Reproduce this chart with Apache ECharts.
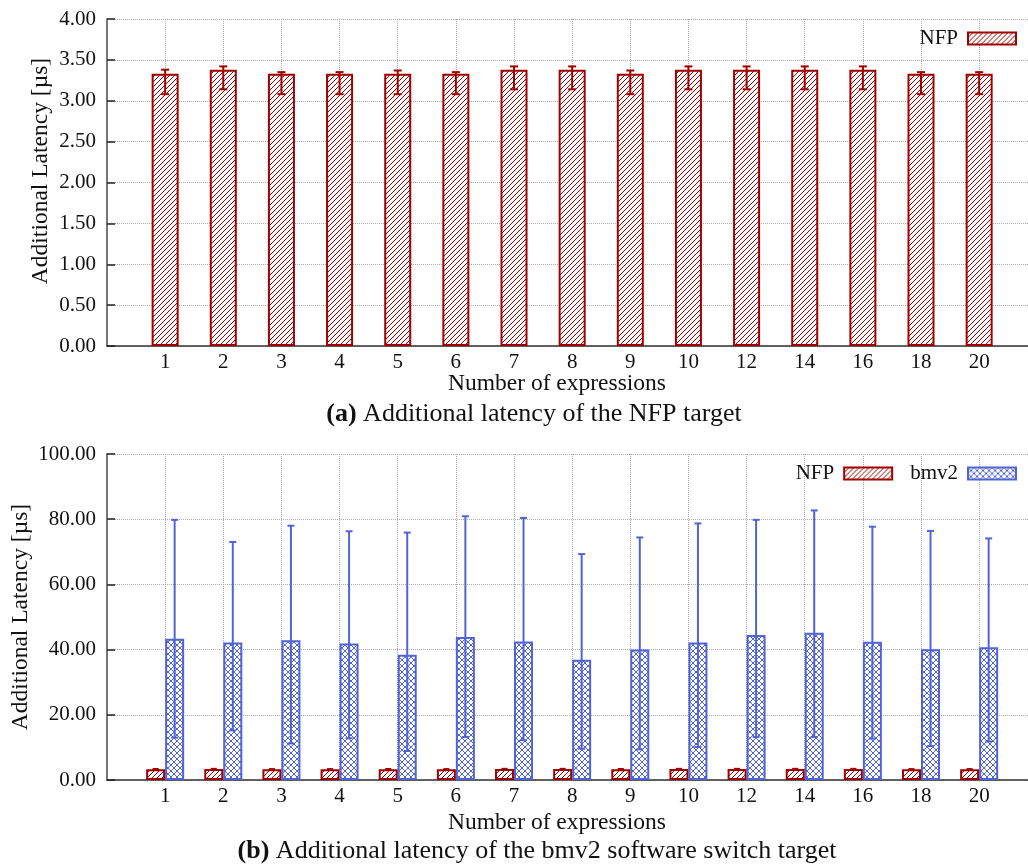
<!DOCTYPE html>
<html>
<head>
<meta charset="utf-8">
<script src="https://cdn.jsdelivr.net/npm/echarts@6/dist/echarts.min.js"></script>
<style>
html,body{margin:0;padding:0;background:#fff;}
#chart{width:1028px;height:866px;}
</style>
</head>
<body>
<div id="chart"></div>
<script>
const categories = ['1','2','3','4','5','6','7','8','9','10','12','14','16','18','20'];
const nfpMean = [3.33,3.38,3.33,3.33,3.33,3.33,3.38,3.38,3.33,3.38,3.38,3.38,3.38,3.33,3.33];
const nfpHigh = [3.38,3.42,3.35,3.35,3.37,3.35,3.42,3.42,3.37,3.42,3.42,3.42,3.42,3.35,3.35];
const nfpLow  = [3.08,3.14,3.08,3.08,3.08,3.08,3.14,3.14,3.08,3.14,3.14,3.14,3.14,3.08,3.08];
const bmv2Mean = [43.3,42.2,42.9,41.9,38.4,43.9,42.5,36.9,40.0,42.2,44.5,45.2,42.4,40.1,40.7];
const bmv2High = [79.8,73.0,78.0,76.3,75.9,80.9,80.4,69.3,74.4,78.7,79.8,82.7,77.7,76.4,74.1];
const bmv2Low  = [13.0,15.2,11.2,12.8,8.9,13.2,12.2,9.6,9.4,10.1,13.2,13.2,12.7,10.4,11.8];
const yTicksA = [0, 4, 0.5];
const yTicksB = [0, 100, 20];

const RED = '#a00000';
const BLUE = '#5064d8';
const FONT = 'Liberation Serif';

function makePattern(color, size, cross) {
  const c = document.createElement('canvas');
  c.width = size; c.height = size;
  const ctx = c.getContext('2d');
  ctx.fillStyle = '#fff';
  ctx.fillRect(0, 0, size, size);
  ctx.strokeStyle = color;
  ctx.lineWidth = 1;
  ctx.beginPath();
  ctx.moveTo(-1, size + 1); ctx.lineTo(size + 1, -1);
  ctx.moveTo(-1, 1); ctx.lineTo(1, -1);
  ctx.moveTo(size - 1, size + 1); ctx.lineTo(size + 1, size - 1);
  if (cross) {
    ctx.moveTo(-1, -1); ctx.lineTo(size + 1, size + 1);
    ctx.moveTo(size - 1, -1); ctx.lineTo(size + 1, 1);
    ctx.moveTo(-1, size - 1); ctx.lineTo(1, size + 1);
  }
  ctx.stroke();
  return { image: c, repeat: 'repeat' };
}
const redPat = makePattern(RED, 5, false);
const bluePat = makePattern(BLUE, 6, true);

const N = categories.length;
const xMin = -1;
const xMax = 14.84;

function xAxisFor(gi) {
  return {
    gridIndex: gi, type: 'value', min: xMin, max: xMax, interval: 1,
    axisLine: { show: true, onZero: false, lineStyle: { color: '#333', width: 1.5 } },
    axisTick: { show: false },
    axisLabel: {
      fontFamily: FONT, fontSize: 21, color: '#111', margin: 6,
      showMaxLabel: false, showMinLabel: false,
      formatter: v => (Number.isInteger(v) && v >= 0 && v < N) ? categories[v] : ''
    },
    splitLine: { show: true, lineStyle: { type: 'dotted', color: '#aaa', width: 1 } }
  };
}
function yAxisFor(gi, t) {
  return {
    gridIndex: gi, type: 'value', min: t[0], max: t[1], interval: t[2],
    axisLine: { show: true, onZero: false, lineStyle: { color: '#777', width: 2 } },
    axisTick: { show: true, inside: true, length: 8, lineStyle: { color: '#222', width: 1.5 } },
    axisLabel: { fontFamily: FONT, fontSize: 21, color: '#111', margin: 11, formatter: v => v.toFixed(2) },
    splitLine: { show: true, lineStyle: { type: 'dotted', color: '#aaa', width: 1 } }
  };
}

function errSeries(name, gi, lo, hi, color, off, cap) {
  return {
    type: 'custom', name: name + '-err', xAxisIndex: gi, yAxisIndex: gi, z: 5,
    data: lo.map((l, i) => [i, l, hi[i]]),
    encode: { x: 0, y: [1, 2] },
    renderItem: function (params, api) {
      const x = api.value(0);
      const pHi = api.coord([x, api.value(2)]);
      const pLo = api.coord([x, api.value(1)]);
      const cx = pHi[0] + off;
      const st = { stroke: color, lineWidth: 2 };
      return {
        type: 'group',
        children: [
          { type: 'line', shape: { x1: cx, y1: pHi[1], x2: cx, y2: pLo[1] }, style: st },
          { type: 'line', shape: { x1: cx - cap, y1: pHi[1], x2: cx + cap, y2: pHi[1] }, style: st },
          { type: 'line', shape: { x1: cx - cap, y1: pLo[1], x2: cx + cap, y2: pLo[1] }, style: st }
        ]
      };
    },
    silent: true,
    tooltip: { show: false }
  };
}

const legendText = { fontFamily: FONT, fontSize: 21, color: '#111', padding: [0, 5, 0, 0] };

const chart = echarts.init(document.getElementById('chart'), null, { renderer: 'canvas' });
const option = {
  animation: false,
  backgroundColor: '#fff',
  grid: [
    { left: 107, right: 0, top: 19, height: 327 },
    { left: 107, right: 0, top: 454, height: 326 }
  ],
  xAxis: [xAxisFor(0), xAxisFor(1)],
  yAxis: [yAxisFor(0, yTicksA), yAxisFor(1, yTicksB)],
  legend: [
    {
      data: ['NFP'], right: 11, top: 28, padding: 0, align: 'right', orient: 'horizontal',
      itemWidth: 48, itemHeight: 12, icon: 'rect',
      textStyle: legendText
    },
    {
      data: ['NFP', 'bmv2'], right: 11, top: 463, padding: 0, align: 'right', orient: 'horizontal',
      itemWidth: 48, itemHeight: 12, itemGap: 17, icon: 'rect',
      textStyle: legendText
    }
  ],
  series: [
    {
      type: 'bar', name: 'NFP', xAxisIndex: 0, yAxisIndex: 0, barWidth: 27,
      data: nfpMean.map((v, i) => [i, v]),
      itemStyle: { color: redPat, borderColor: RED, borderWidth: 2 }
    },
    errSeries('NFP', 0, nfpLow, nfpHigh, RED, 0, 4),
    {
      type: 'bar', name: 'NFP', xAxisIndex: 1, yAxisIndex: 1, barWidth: 19, barGap: '0%',
      data: nfpMean.map((v, i) => [i, v]),
      itemStyle: { color: redPat, borderColor: RED, borderWidth: 2 }
    },
    {
      type: 'bar', name: 'bmv2', xAxisIndex: 1, yAxisIndex: 1, barWidth: 19, barGap: '0%',
      data: bmv2Mean.map((v, i) => [i, v]),
      itemStyle: { color: bluePat, borderColor: BLUE, borderWidth: 2 }
    },
    errSeries('NFP', 1, nfpLow, nfpHigh, RED, -9.5, 3),
    errSeries('bmv2', 1, bmv2Low, bmv2High, BLUE, 9.5, 3.5)
  ],
  graphic: [
    { type: 'text', x: 41, y: 171, rotation: Math.PI / 2,
      style: { text: 'Additional Latency [µs]', font: '23.5px "Liberation Serif"', fill: '#111', textAlign: 'center', textVerticalAlign: 'middle' } },
    { type: 'text', x: 21, y: 617, rotation: Math.PI / 2,
      style: { text: 'Additional Latency [µs]', font: '23.5px "Liberation Serif"', fill: '#111', textAlign: 'center', textVerticalAlign: 'middle' } },
    { type: 'text', x: 557, y: 384,
      style: { text: 'Number of expressions', font: '23.5px "Liberation Serif"', fill: '#111', textAlign: 'center', textVerticalAlign: 'middle' } },
    { type: 'text', x: 557, y: 823,
      style: { text: 'Number of expressions', font: '23.5px "Liberation Serif"', fill: '#111', textAlign: 'center', textVerticalAlign: 'middle' } },
    { type: 'text', x: 534, y: 414,
      style: { text: '{b|(a)} Additional latency of the NFP target', fill: '#111', textAlign: 'center', textVerticalAlign: 'middle',
        font: '26px "Liberation Serif"',
        rich: { b: { fontFamily: FONT, fontSize: 26, fontWeight: 'bold', fill: '#111' } } } },
    { type: 'text', x: 537, y: 851,
      style: { text: '{b|(b)} Additional latency of the bmv2 software switch target', fill: '#111', textAlign: 'center', textVerticalAlign: 'middle',
        font: '26px "Liberation Serif"',
        rich: { b: { fontFamily: FONT, fontSize: 26, fontWeight: 'bold', fill: '#111' } } } }
  ]
};
chart.setOption(option);
</script>
</body>
</html>
